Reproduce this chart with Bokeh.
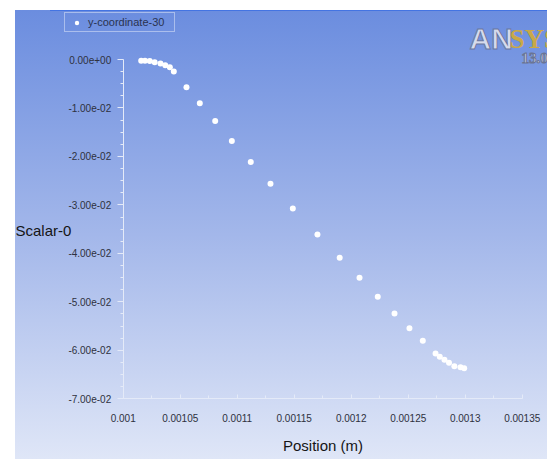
from bokeh.plotting import figure
from bokeh.models import FixedTicker, CustomJSTickFormatter, Label, Legend, LegendItem
from bokeh.embed import file_html
from bokeh.resources import INLINE

# ---- data ----
position = [0.0010158, 0.0010191, 0.0010233, 0.0010276, 0.0010327, 0.0010369, 0.0010409,
            0.0010444, 0.0010555, 0.0010672, 0.0010807, 0.0010953, 0.0011119, 0.0011292,
            0.0011488, 0.0011704, 0.0011899, 0.0012073, 0.0012233, 0.0012380, 0.0012511,
            0.0012628, 0.0012740, 0.0012777, 0.0012818, 0.0012858, 0.0012905, 0.0012959,
            0.0012991]
scalar = [-0.00025, -0.00025, -0.00031, -0.00058, -0.00083, -0.00120, -0.00159,
          -0.00248, -0.00571, -0.00902, -0.01269, -0.01681, -0.02115, -0.02565,
          -0.03074, -0.03611, -0.04091, -0.04504, -0.04896, -0.05240, -0.05544,
          -0.05804, -0.06066, -0.06134, -0.06196, -0.06258, -0.06328, -0.06348,
          -0.06369]
series_name = "y-coordinate-30"
x_title = "Position (m)"
y_title = "Scalar-0"
x_ticks = [0.001, 0.00105, 0.0011, 0.00115, 0.0012, 0.00125, 0.0013, 0.00135]
x_minor = [0.001025, 0.001075, 0.001125, 0.001175, 0.001225, 0.001275, 0.001325]
y_ticks = [0.0, -0.01, -0.02, -0.03, -0.04, -0.05, -0.06, -0.07]
y_minor = [-0.0025 * i for i in range(1, 28) if i % 4 != 0]
logo_a = "AN"
logo_b = "SYS"
logo_ver = "13.0"

# ---- layout: the frame fills the canvas, axes are pinned inside it ----
W, H = 547, 459
ax_left_px, ax_right_px = 122.7, 521.7      # x-axis extent on the canvas
ax_top_px, ax_bottom_px = 59.0, 398.3       # y-axis extent on the canvas
x0, x1 = x_ticks[0], x_ticks[-1]
y0, y1 = y_ticks[-1], y_ticks[0]
xs = (x1 - x0) / (ax_right_px - ax_left_px)
ys = (y1 - y0) / (ax_bottom_px - ax_top_px)
x_range = (x0 - ax_left_px * xs, x1 + (W - ax_right_px) * xs)
y_range = (y0 - (H - ax_bottom_px) * ys, y1 + ax_top_px * ys)

p = figure(width=W, height=H, output_backend="svg", toolbar_location=None,
           x_range=x_range, y_range=y_range,
           min_border=0, min_border_left=0, min_border_right=0, min_border_top=0, min_border_bottom=0,
           background_fill_alpha=0, border_fill_alpha=0, outline_line_color=None)

p.styles = {
    "background": "linear-gradient(#4474e2,#4474e2) 50px 10px / calc(100% - 50px) 1px no-repeat, "
                  "linear-gradient(to bottom, #6b8ddf 0%, #a3b7ea 50%, #dfe6f7 100%) 15px 10px / calc(100% - 15px) calc(100% - 10px) no-repeat, "
                  "#ffffff"
}

p.xgrid.visible = False
p.ygrid.visible = False

r = p.scatter(position, scalar, size=6, fill_color="white", line_color=None)

axis_col = "#e4eaf8"
tick_font = "Liberation Sans"

xa = p.xaxis[0]
xa.fixed_location = y0
xa.bounds = (x0, x1)
xa.ticker = FixedTicker(ticks=x_ticks, minor_ticks=x_minor)
xa.formatter = CustomJSTickFormatter(code="return parseFloat(tick.toPrecision(6)).toString();")
xa.axis_line_color = axis_col
xa.major_tick_line_color = axis_col
xa.minor_tick_line_color = axis_col
xa.major_tick_in = 4
xa.major_tick_out = 0
xa.minor_tick_in = 3
xa.minor_tick_out = 0
xa.major_label_standoff = 15
xa.major_label_text_font = tick_font
xa.major_label_text_font_size = "10px"
xa.major_label_text_color = "#2e3140"
xa.axis_label = x_title
xa.axis_label_text_font = "Liberation Sans"
xa.axis_label_text_font_style = "normal"
xa.axis_label_text_font_size = "15px"
xa.axis_label_text_color = "#151515"
xa.axis_label_standoff = 12

ya = p.yaxis[0]
ya.fixed_location = x0
ya.bounds = (y0, y1)
ya.ticker = FixedTicker(ticks=y_ticks, minor_ticks=y_minor)
ya.formatter = CustomJSTickFormatter(code="""
const s = tick.toExponential(2);
const parts = s.split("e");
const sign = parts[1][0];
const d = parts[1].slice(1).padStart(2, "0");
return parts[0] + "e" + sign + d;
""")
ya.axis_line_color = axis_col
ya.major_tick_line_color = axis_col
ya.minor_tick_line_color = axis_col
ya.major_tick_in = 0
ya.major_tick_out = 6
ya.minor_tick_in = 0
ya.minor_tick_out = 3
ya.major_label_standoff = 6
ya.major_label_text_font = tick_font
ya.major_label_text_font_size = "10px"
ya.major_label_text_color = "#2e3140"

p.add_layout(Label(x=15, y=H - 230, x_units="screen", y_units="screen", text=y_title,
                   text_font="Liberation Sans", text_font_size="15px", text_color="#151515",
                   text_baseline="middle", text_align="left"))

legend = Legend(items=[LegendItem(label=series_name, renderers=[r])],
                location=(64, H - 32), orientation="vertical",
                background_fill_alpha=0, border_line_color="#e6ecf9", border_line_width=1,
                padding=3, spacing=0, margin=0, glyph_width=17, glyph_height=11,
                label_standoff=3, label_width=83, label_height=11,
                label_text_font="Liberation Sans", label_text_font_size="11px",
                label_text_color="#2a3350")
p.add_layout(legend)

p.add_layout(Label(x=469, y=H - 38, x_units="screen", y_units="screen", text=logo_a,
                   text_font="Liberation Sans", text_font_style="bold", text_font_size="30px",
                   text_color="#d6dbec", text_outline_color="#6a77a0",
                   text_baseline="alphabetic"))
p.add_layout(Label(x=509, y=H - 38, x_units="screen", y_units="screen", text=logo_b,
                   text_font="Liberation Serif", text_font_style="bold", text_font_size="27px",
                   text_color="#c9a848", text_baseline="alphabetic"))
p.add_layout(Label(x=521, y=H - 57, x_units="screen", y_units="screen", text=logo_ver,
                   text_font="Liberation Serif", text_font_style="bold", text_font_size="15px",
                   text_color="#c3c9dc", text_outline_color="#6a7494",
                   text_baseline="alphabetic"))

open("out.html", "w").write(file_html(p, INLINE))
